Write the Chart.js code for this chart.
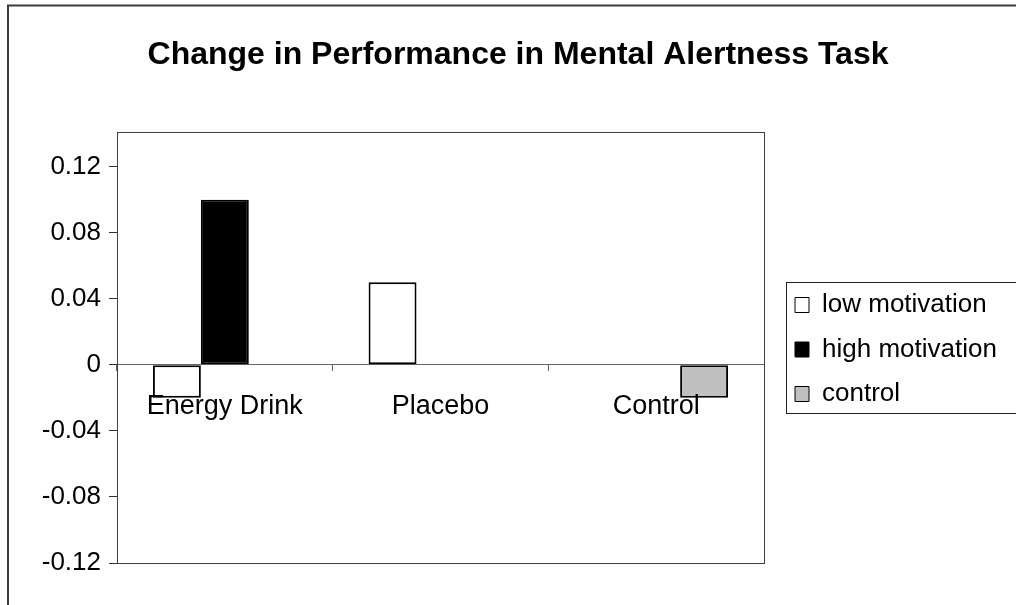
<!DOCTYPE html>
<html>
<head>
<meta charset="utf-8">
<title>Change in Performance in Mental Alertness Task</title>
<script src="https://cdn.jsdelivr.net/npm/chart.js@4"></script>
<style>
  html, body { margin: 0; padding: 0; background: #ffffff; }
  #wrap { position: relative; width: 1016px; height: 605px; }
</style>
</head>
<body>
<div id="wrap"><canvas id="chart"></canvas></div>
<script>
// ---- data ----
const categories = ['Energy Drink', 'Placebo', 'Control'];
const seriesNames = ['low motivation', 'high motivation', 'control'];
const lowMotivation = [-0.02, 0.05, null];
const highMotivation = [0.10, null, null];
const controlGroup = [null, null, -0.02];
const yTickValues = [-0.12, -0.08, -0.04, 0, 0.04, 0.08, 0.12];
const yTickLabels = ['-0.12', '-0.08', '-0.04', '0', '0.04', '0.08', '0.12'];
const yMin = -0.12;
const yMax = 0.141;
const chartTitle = 'Change in Performance in Mental Alertness Task';

// ---- layout / style ----
const FONT = "'Liberation Sans', Arial, Helvetica, sans-serif";
const PLOT_LEFT = 117;
const PLOT_RIGHT = 764;
const LEGEND_ITEM_X = 795;   // left edge of the legend swatches
const LEGEND_ITEM_Y = 292;   // top of the first legend row
let padLeft = 20;
let padRight = 0;

// frames: outer chart border, plot-area box, legend box; also places the legend
const framePlugin = {
  id: 'frames',
  afterLayout(chart) {
    const lg = chart.legend;
    if (!lg) return;
    const pad = lg.options.labels.padding;
    const dx = LEGEND_ITEM_X - pad - lg.left;
    lg.left += dx; lg.right += dx;
    const colH = (lg.columnSizes && lg.columnSizes[0]) ? lg.columnSizes[0].height : 0;
    const start = (lg.top + pad + lg.bottom - colH) / 2;
    const dy = LEGEND_ITEM_Y - start;
    lg.top += dy; lg.bottom += dy;
  },
  afterDraw(chart) {
    const { ctx, chartArea: a } = chart;
    ctx.save();
    ctx.strokeStyle = '#3c3c3c';
    ctx.lineWidth = 2;
    ctx.strokeRect(8, 5.5, 1200, 800);
    ctx.lineWidth = 1;
    ctx.strokeStyle = '#404040';
    const l = Math.round(a.left), t = Math.round(a.top), r = Math.round(a.right), b = Math.round(a.bottom);
    ctx.strokeRect(l + 0.5, t + 0.5, r - l, b - t);
    ctx.strokeStyle = '#222';
    ctx.strokeRect(786.5, 282.5, 400, 131);
    ctx.restore();
  }
};

const options = {
  responsive: true,
  maintainAspectRatio: false,
  animation: false,
  events: [],
  layout: { padding: { top: 0, bottom: 42, left: padLeft, right: padRight } },
  datasets: { bar: { categoryPercentage: 0.667, barPercentage: 1.0 } },
  scales: {
    x: {
      type: 'category',
      position: { y: 0 },
      offset: true,
      grid: { display: true, drawOnChartArea: false, drawTicks: true, tickLength: 6, color: '#666', offset: true },
      border: { display: true, color: '#666', width: 1 },
      ticks: { z: 1, color: '#000', font: { family: FONT, size: 27 }, padding: 20, maxRotation: 0, autoSkip: false }
    },
    y: {
      min: yMin,
      max: yMax,
      afterBuildTicks(scale) { scale.ticks = yTickValues.map(v => ({ value: v })); },
      afterFit(scale) { scale.width = PLOT_LEFT - padLeft; },
      grid: { drawOnChartArea: false, drawTicks: true, tickLength: 8, color: '#333' },
      border: { display: true, color: '#333', width: 1 },
      ticks: { color: '#000', font: { family: FONT, size: 26 }, padding: 8, callback: (v, i) => yTickLabels[i] }
    }
  },
  plugins: {
    title: {
      display: true,
      text: chartTitle,
      color: '#000',
      font: { family: FONT, size: 32, weight: 'bold' },
      padding: { top: 36, bottom: 57.6 }
    },
    legend: {
      display: true,
      position: 'right',
      align: 'center',
      labels: {
        color: '#000',
        font: { family: FONT, size: 26 },
        boxWidth: 14,
        boxHeight: 15,
        padding: 18.5,
        generateLabels(chart) {
          const items = Chart.defaults.plugins.legend.labels.generateLabels(chart);
          items.forEach(it => { it.lineWidth = 1; it.strokeStyle = '#000'; });
          return items;
        }
      }
    },
    tooltip: { enabled: false }
  }
};

const chart = new Chart(document.getElementById('chart'), {
  type: 'bar',
  data: {
    labels: categories,
    datasets: [
      { label: seriesNames[0], data: lowMotivation, backgroundColor: '#ffffff', borderColor: '#000', borderWidth: 2, borderSkipped: false },
      { label: seriesNames[1], data: highMotivation, backgroundColor: '#000000', borderColor: '#000', borderWidth: 2, borderSkipped: false },
      { label: seriesNames[2], data: controlGroup, backgroundColor: '#c0c0c0', borderColor: '#000', borderWidth: 2, borderSkipped: false }
    ]
  },
  options,
  plugins: [framePlugin]
});

// fit the plot area right edge next to the legend, keep the title centred
padRight = Math.max(0, 1016 - PLOT_RIGHT - chart.legend.width);
padLeft = padRight + 20;
chart.options.layout.padding = { top: 0, bottom: 42, left: padLeft, right: padRight };
chart.update('none');
</script>
</body>
</html>
